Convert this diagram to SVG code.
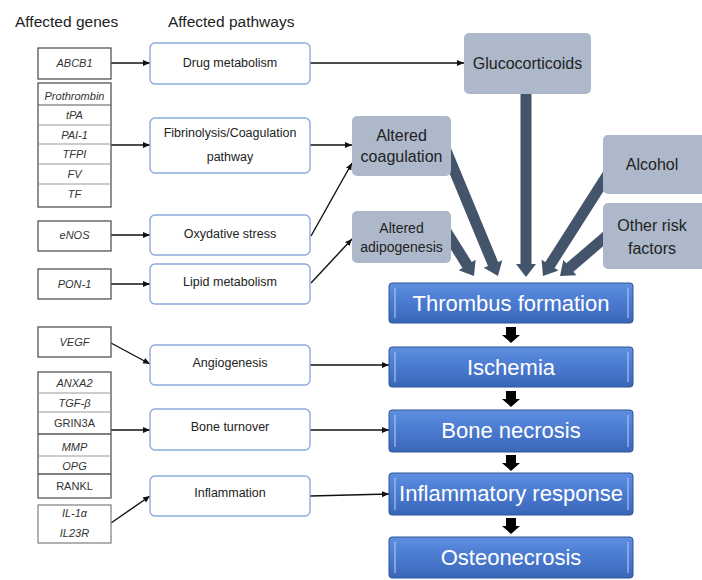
<svg xmlns="http://www.w3.org/2000/svg" width="702" height="580" viewBox="0 0 702 580">
<defs>
<style>
text{font-family:"Liberation Sans",Arial,sans-serif;}
.hdr{font-size:15.5px;fill:#222;}
.gene{fill:#fff;stroke:#555;stroke-width:1.3;}
.gl{stroke:#999;stroke-width:1;}
.gt{font-size:11px;font-style:italic;fill:#333;text-anchor:middle;}
.gn{font-size:11px;fill:#333;text-anchor:middle;}
.pw{fill:#fff;stroke:#8eaadb;stroke-width:1.4;}
.pt{font-size:12.5px;fill:#222;text-anchor:middle;}
.gray{fill:#adb9ca;}
.grt{font-size:16px;fill:#222;text-anchor:middle;}
.grs{font-size:14px;fill:#222;text-anchor:middle;}
.blue{fill:url(#bg);stroke:#2f5597;stroke-width:1;}
.hl{stroke:#a9c4f0;stroke-width:1.5;opacity:0.8;}
.bt{font-size:22px;fill:#fff;text-anchor:middle;}
.con{stroke:#111;stroke-width:1.4;fill:none;marker-end:url(#ah);}
.big{fill:#44546a;}
.sm{fill:#000;}
</style>
<linearGradient id="bg" x1="0" y1="0" x2="0" y2="1">
<stop offset="0" stop-color="#5f8fe0"/>
<stop offset="0.5" stop-color="#4a7ad0"/>
<stop offset="1" stop-color="#3a66b8"/>
</linearGradient>
<marker id="ah" markerWidth="8" markerHeight="8" refX="7" refY="4" orient="auto" markerUnits="userSpaceOnUse">
<path d="M0,1 L7,4 L0,7 Z" fill="#111"/>
</marker>
</defs>
<rect width="702" height="580" fill="#fff"/>

<text class="hdr" x="15" y="27">Affected genes</text>
<text class="hdr" x="168" y="27">Affected pathways</text>

<g id="connectors">
<line class="con" x1="111" y1="63" x2="150" y2="63"/>
<line class="con" x1="111" y1="145" x2="150" y2="145"/>
<line class="con" x1="111" y1="235" x2="150" y2="235"/>
<line class="con" x1="111" y1="284" x2="150" y2="284"/>
<line class="con" x1="111" y1="343" x2="150" y2="364"/>
<line class="con" x1="111" y1="430" x2="150" y2="430"/>
<line class="con" x1="111" y1="523" x2="150" y2="496"/>
<line class="con" x1="310" y1="63" x2="464" y2="63"/>
<line class="con" x1="310" y1="145" x2="352" y2="145"/>
<line class="con" x1="311" y1="236" x2="352" y2="163"/>
<line class="con" x1="311" y1="283" x2="352" y2="239"/>
<line class="con" x1="310" y1="365" x2="389" y2="365"/>
<line class="con" x1="310" y1="430" x2="389" y2="430"/>
<line class="con" x1="310" y1="496" x2="389" y2="494"/>
<!-- big block arrows -->
<polygon class="big" points="520.5,94 531.5,94 531.5,264 536,264 526,277 516,264 520.5,264"/>
<polygon class="big" transform="translate(498,276) rotate(-22.5)" points="-5.5,-140 5.5,-140 5.5,-13 10,-13 0,0 -10,-13 -5.5,-13"/>
<polygon class="big" transform="translate(474,276) rotate(-32)" points="-5.5,-70 5.5,-70 5.5,-13 10,-13 0,0 -10,-13 -5.5,-13"/>
<polygon class="big" transform="translate(543,276) rotate(32.5)" points="-5.5,-130 5.5,-130 5.5,-13 10,-13 0,0 -10,-13 -5.5,-13"/>
<polygon class="big" transform="translate(560,276) rotate(49.4)" points="-5.5,-80 5.5,-80 5.5,-13 10,-13 0,0 -10,-13 -5.5,-13"/>
<!-- small block arrows -->
<polygon class="sm" points="506,327 516,327 516,335 520,335 511,343 502,335 506,335"/>
<polygon class="sm" points="506,391 516,391 516,399 520,399 511,407 502,399 506,399"/>
<polygon class="sm" points="506,455 516,455 516,463 520,463 511,471 502,463 506,463"/>
<polygon class="sm" points="506,518 516,518 516,526 520,526 511,534 502,526 506,526"/>
</g>

<g id="gene-ABCB1"><rect class="gene" x="38" y="48" width="73" height="31"/><text class="gt" x="74.5" y="67">ABCB1</text></g>
<g id="gene-coag">
<rect class="gene" x="38" y="83" width="73" height="124"/>
<line class="gl" x1="38" y1="105" x2="111" y2="105" style="stroke:#555"/>
<line class="gl" x1="38" y1="125" x2="111" y2="125"/>
<line class="gl" x1="38" y1="144" x2="111" y2="144"/>
<line class="gl" x1="38" y1="164" x2="111" y2="164"/>
<line class="gl" x1="38" y1="184" x2="111" y2="184"/>
<text class="gt" x="74.5" y="100">Prothrombin</text>
<text class="gt" x="74.5" y="119">tPA</text>
<text class="gt" x="74.5" y="139">PAI-1</text>
<text class="gt" x="74.5" y="158">TFPI</text>
<text class="gt" x="74.5" y="178">FV</text>
<text class="gt" x="74.5" y="198">TF</text>
</g>
<g id="gene-eNOS"><rect class="gene" x="38" y="221" width="73" height="30"/><text class="gt" x="74.5" y="239">eNOS</text></g>
<g id="gene-PON1"><rect class="gene" x="38" y="269" width="73" height="30"/><text class="gt" x="74.5" y="288">PON-1</text></g>
<g id="gene-VEGF"><rect class="gene" x="38" y="327" width="73" height="30"/><text class="gt" x="74.5" y="346">VEGF</text></g>
<g id="gene-bone">
<rect class="gene" x="38" y="372" width="73" height="126"/>
<line class="gl" x1="38" y1="393" x2="111" y2="393"/>
<line class="gl" x1="38" y1="412" x2="111" y2="412"/>
<line class="gl" x1="38" y1="434" x2="111" y2="434" style="stroke:#555;stroke-width:1.5"/>
<line class="gl" x1="38" y1="456" x2="111" y2="456"/>
<line class="gl" x1="38" y1="474" x2="111" y2="474" style="stroke:#555;stroke-width:1.3"/>
<text class="gt" x="74.5" y="387">ANXA2</text>
<text class="gt" x="74.5" y="407">TGF-β</text>
<text class="gn" x="74.5" y="427">GRIN3A</text>
<text class="gt" x="74.5" y="451">MMP</text>
<text class="gt" x="74.5" y="470">OPG</text>
<text class="gn" x="74.5" y="490">RANKL</text>
</g>
<g id="gene-IL"><rect class="gene" x="38" y="505" width="73" height="38" style="stroke:#888"/><text class="gt" x="74.5" y="517">IL-1α</text><text class="gt" x="74.5" y="537">IL23R</text></g>

<g id="pw-drug"><rect class="pw" x="150" y="43" width="160" height="41" rx="5"/><text class="pt" x="230" y="67">Drug metabolism</text></g>
<g id="pw-fib"><rect class="pw" x="150" y="118" width="160" height="55" rx="5"/><text class="pt" x="230" y="137">Fibrinolysis/Coagulation</text><text class="pt" x="230" y="161">pathway</text></g>
<g id="pw-ox"><rect class="pw" x="150" y="215" width="160" height="40" rx="5"/><text class="pt" x="230" y="238">Oxydative stress</text></g>
<g id="pw-lipid"><rect class="pw" x="150" y="264" width="160" height="40" rx="5"/><text class="pt" x="230" y="286">Lipid metabolism</text></g>
<g id="pw-angio"><rect class="pw" x="150" y="345" width="160" height="40" rx="5"/><text class="pt" x="230" y="367">Angiogenesis</text></g>
<g id="pw-bone"><rect class="pw" x="150" y="409" width="160" height="41" rx="5"/><text class="pt" x="230" y="431">Bone turnover</text></g>
<g id="pw-inf"><rect class="pw" x="150" y="476" width="160" height="40" rx="5"/><text class="pt" x="230" y="497">Inflammation</text></g>

<g id="gluco"><rect class="gray" x="464" y="33" width="127" height="61" rx="5"/><text class="grt" x="527.5" y="69">Glucocorticoids</text></g>
<g id="alt-coag"><rect class="gray" x="352" y="116" width="99" height="60" rx="5"/><text class="grt" x="401.5" y="141">Altered</text><text class="grt" x="401.5" y="162">coagulation</text></g>
<g id="alt-adipo"><rect class="gray" x="352" y="211" width="99" height="52" rx="5"/><text class="grs" x="401.5" y="233">Altered</text><text class="grs" x="401.5" y="252">adipogenesis</text></g>
<g id="alcohol"><rect class="gray" x="603" y="135" width="103" height="59" rx="5"/><text class="grt" x="652" y="170">Alcohol</text></g>
<g id="other"><rect class="gray" x="603" y="203" width="103" height="66" rx="5"/><text class="grt" x="652" y="231">Other risk</text><text class="grt" x="652" y="254">factors</text></g>

<g id="thrombus"><rect class="blue" x="389" y="283" width="244" height="40" rx="3"/><line class="hl" x1="395" y1="288" x2="395" y2="318"/><line class="hl" x1="628" y1="288" x2="628" y2="318"/><text class="bt" x="511" y="311">Thrombus formation</text></g>
<g id="ischemia"><rect class="blue" x="389" y="347" width="244" height="40" rx="3"/><line class="hl" x1="395" y1="352" x2="395" y2="382"/><line class="hl" x1="628" y1="352" x2="628" y2="382"/><text class="bt" x="511" y="375">Ischemia</text></g>
<g id="bonenec"><rect class="blue" x="389" y="410" width="244" height="42" rx="3"/><line class="hl" x1="395" y1="415" x2="395" y2="447"/><line class="hl" x1="628" y1="415" x2="628" y2="447"/><text class="bt" x="511" y="438">Bone necrosis</text></g>
<g id="infresp"><rect class="blue" x="389" y="473" width="244" height="42" rx="3"/><line class="hl" x1="395" y1="478" x2="395" y2="510"/><line class="hl" x1="628" y1="478" x2="628" y2="510"/><text class="bt" x="511" y="501">Inflammatory response</text></g>
<g id="osteo"><rect class="blue" x="389" y="537" width="244" height="41" rx="3"/><line class="hl" x1="395" y1="542" x2="395" y2="573"/><line class="hl" x1="628" y1="542" x2="628" y2="573"/><text class="bt" x="511" y="565">Osteonecrosis</text></g>
</svg>
